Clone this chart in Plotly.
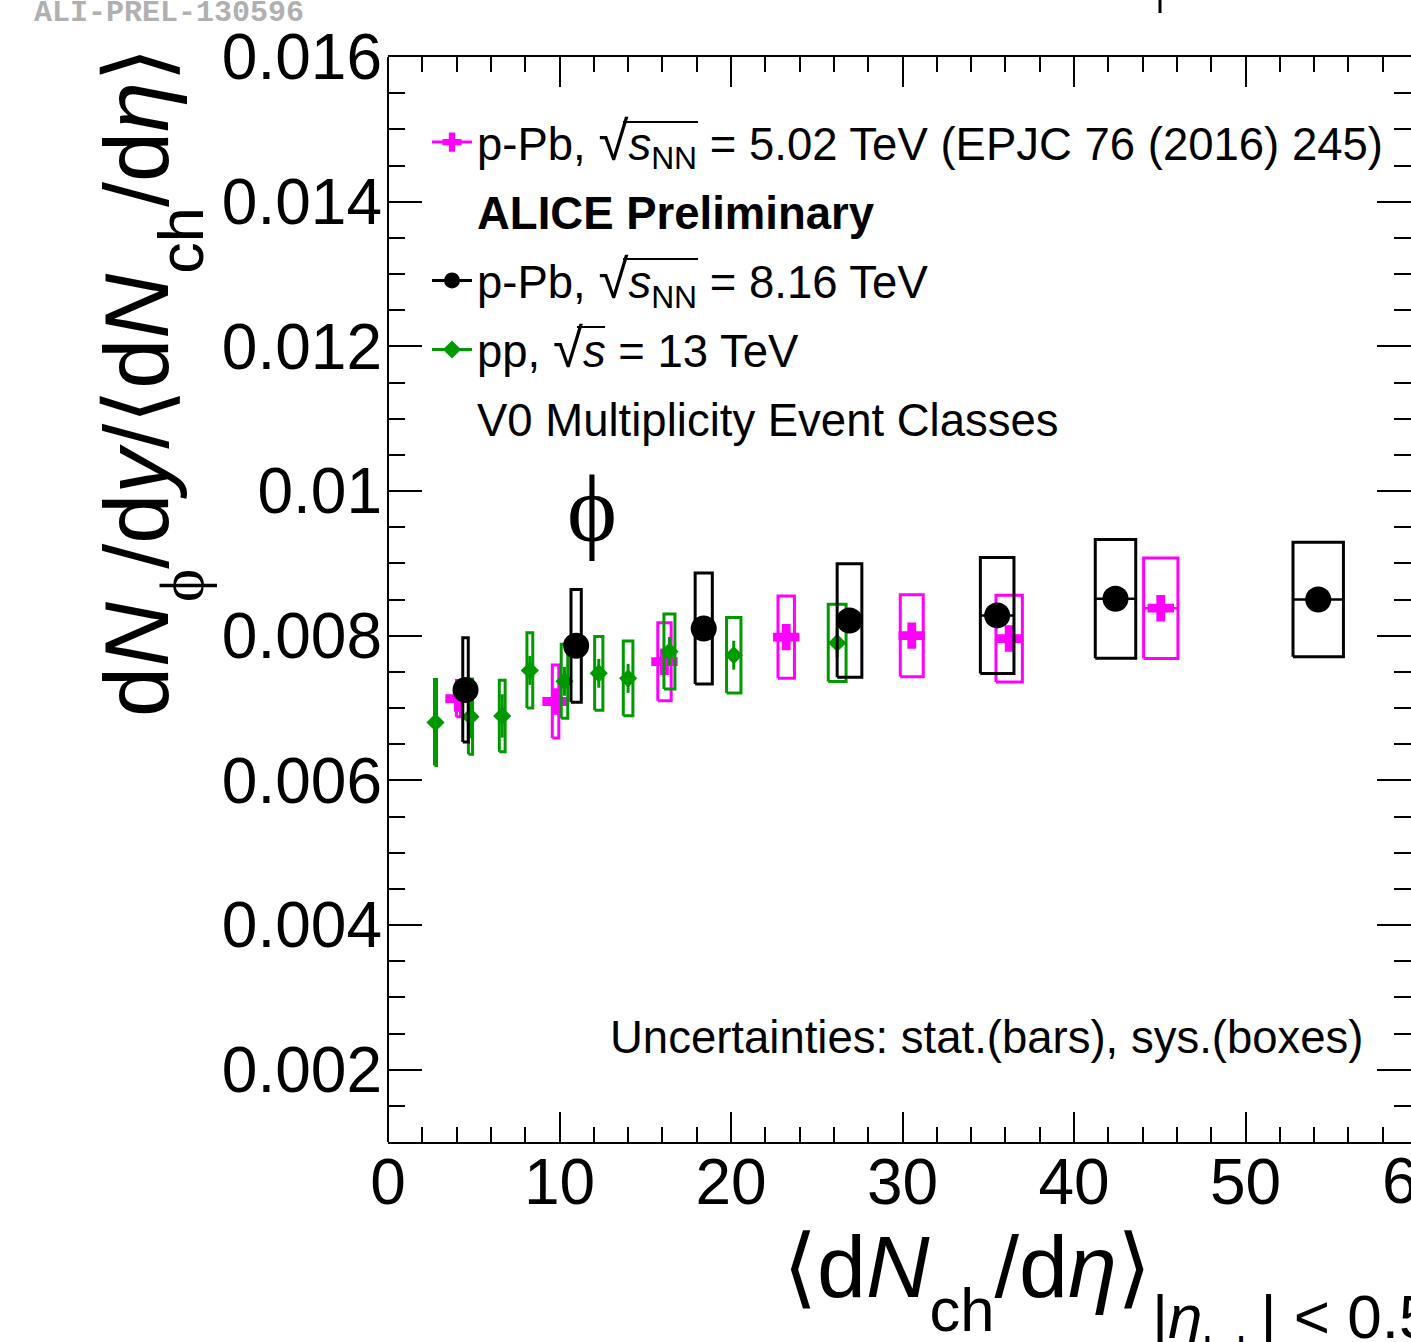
import plotly.graph_objects as go

# ---------------- data ----------------
# pp, sqrt(s) = 13 TeV
pp13_x = [2.77, 4.81, 6.66, 8.27, 10.29, 12.29, 14.0, 16.41, 20.16, 26.19]
pp13_y = [0.00680, 0.00688, 0.00689, 0.00752, 0.00737, 0.00748, 0.00741, 0.00778, 0.00773, 0.00790]
pp13_stat = [0.00045, 0.00030, 0.00030, 0.00020, 0.00020, 0.00020, 0.00020, 0.00020, 0.00020, 0.00020]
pp13_sys = [0.000595, 0.000521, 0.000494, 0.000521, 0.000510, 0.000510, 0.000517, 0.000519, 0.000521, 0.000533]
pp13_xw = [0.06, 0.12, 0.17, 0.17, 0.19, 0.24, 0.28, 0.32, 0.42, 0.52]

# p-Pb, sqrt(sNN) = 5.02 TeV
pPb5_x = [4.11, 9.77, 16.12, 23.22, 30.54, 36.22, 45.06]
pPb5_y = [0.00713, 0.00709, 0.00764, 0.00798, 0.00800, 0.00796, 0.00838]
pPb5_stat = [0.00010, 0.00010, 0.00010, 0.00010, 0.00010, 0.00010, 0.00010]
pPb5_sys = [0.000250, 0.000505, 0.000540, 0.000567, 0.000567, 0.000600, 0.000694]
pPb5_xw = [0.12, 0.19, 0.39, 0.48, 0.67, 0.77, 1.00]

# p-Pb, sqrt(sNN) = 8.16 TeV
pPb8_x = [4.52, 10.97, 18.41, 26.91, 35.52, 42.42, 54.24]
pPb8_y = [0.00725, 0.00786, 0.00810, 0.00821, 0.00828, 0.00851, 0.00850]
pPb8_stat = [0.00012, 0.00010, 0.00010, 0.00010, 0.00010, 0.00010, 0.00010]
pPb8_sys = [0.000721, 0.000779, 0.000768, 0.000786, 0.000802, 0.000821, 0.000790]
pPb8_xw = [0.16, 0.30, 0.50, 0.72, 0.98, 1.18, 1.47]

x_tickvals = [0, 10, 20, 30, 40, 50, 60]
x_ticktext = ["0", "10", "20", "30", "40", "50", "60"]
y_tickvals = [0.002, 0.004, 0.006, 0.008, 0.010, 0.012, 0.014, 0.016]
y_ticktext = ["0.002", "0.004", "0.006", "0.008", "0.01", "0.012", "0.014", "0.016"]

MAGENTA = "#ff00ff"
BLACK = "#000000"
GREEN = "#009900"
FONT = "Liberation Sans, Arial, sans-serif"
TXT = 45.5

W, H = 1411, 1342
ML, MR, MT, MB = 388, 0, 57, 200
PW, PH = W - ML - MR, H - MT - MB


def px_x(p):
    return (p - ML) / PW


def px_y(p):
    return (H - MB - p) / PH


def box_path(xs, ys, sys, xw):
    bx, by = [], []
    for xi, yi, s, w in zip(xs, ys, sys, xw):
        bx += [xi - w, xi + w, xi + w, xi - w, xi - w, None]
        by += [yi - s, yi - s, yi + s, yi + s, yi - s, None]
    return bx, by


fig = go.Figure()


def add_series(xs, ys, stat, sys, xw, color, symbol, size):
    bx, by = box_path(xs, ys, sys, xw)
    fig.add_trace(go.Scatter(x=bx, y=by, mode="lines", line=dict(color=color, width=3),
                             showlegend=False, hoverinfo="skip"))
    fig.add_trace(go.Scatter(
        x=xs, y=ys, mode="markers",
        marker=dict(color=color, symbol=symbol, size=size, line=dict(width=0)),
        error_y=dict(type="data", array=stat, color=color, thickness=3, width=0),
        error_x=dict(type="data", array=xw, color=color, thickness=2.5, width=0),
        showlegend=False))


add_series(pPb5_x, pPb5_y, pPb5_stat, pPb5_sys, pPb5_xw, MAGENTA, "cross", 22)
add_series(pp13_x, pp13_y, pp13_stat, pp13_sys, pp13_xw, GREEN, "diamond", 14)
add_series(pPb8_x, pPb8_y, pPb8_stat, pPb8_sys, pPb8_xw, BLACK, "circle", 26)

# legend entries
root = "<span style='font-size:120%'>√</span>"
sq_nn = root + "<i>s</i><sub>NN</sub>"
sq_s = root + "<i>s</i>"
legend_items = [
    ("p-Pb, " + sq_nn + " = 5.02 TeV (EPJC 76 (2016) 245)", MAGENTA, "cross", 16, True),
    ("<b>ALICE Preliminary</b>", "rgba(0,0,0,0)", "circle", 1, False),
    ("p-Pb, " + sq_nn + " = 8.16 TeV", BLACK, "circle", 16, True),
    ("pp, " + sq_s + " = 13 TeV", GREEN, "diamond", 14, True),
    ("V0 Multiplicity Event Classes", "rgba(0,0,0,0)", "circle", 1, False),
]
for i, (name, col, sym, sz, vis) in enumerate(legend_items):
    fig.add_trace(go.Scatter(
        x=[None], y=[None], name=name, legendgroup="g%d" % i,
        mode="lines+markers" if vis else "markers",
        line=dict(color=col, width=3),
        marker=dict(color=col, symbol=sym, size=sz, opacity=1 if vis else 0),
        showlegend=True))

axis_common = dict(
    ticks="inside", tickcolor="black", tickwidth=2,
    showgrid=False, zeroline=False, mirror="ticks",
    tickfont=dict(family=FONT, size=64, color="black"),
)

fig.update_layout(
    width=W, height=H,
    margin=dict(l=ML, r=MR, t=MT, b=MB, pad=0),
    paper_bgcolor="white", plot_bgcolor="white",
    font=dict(family=FONT, color="black"),
    xaxis=dict(range=[0, PW / 17.15], tickmode="array", tickvals=x_tickvals, ticktext=x_ticktext,
               showline=True, linecolor="black", linewidth=2,
               ticklen=30, ticklabelstandoff=-17,
               minor=dict(dtick=2, tick0=0, ticks="inside", ticklen=15,
                          tickwidth=2, tickcolor="black", showgrid=False),
               **axis_common),
    yaxis=dict(range=[0.001, 0.0160001], tickmode="array", tickvals=y_tickvals, ticktext=y_ticktext,
               showline=False,
               ticklen=34, ticklabelstandoff=5,
               minor=dict(dtick=0.0005, tick0=0, ticks="inside", ticklen=17,
                          tickwidth=2, tickcolor="black", showgrid=False),
               **axis_common),
    showlegend=True,
    legend=dict(x=px_x(427), y=px_y(106), xanchor="left", yanchor="top",
                bgcolor="rgba(0,0,0,0)", borderwidth=0, itemwidth=40, tracegroupgap=7,
                font=dict(family=FONT, size=TXT, color="black"), traceorder="grouped"),
)

low = "<span style='baseline-shift:-16px'>%s</span>"
annotations = [
    # y axis title
    dict(text="d<i>N</i><sub>" + (low % "<span style='font-family:Liberation Serif'>ϕ</span>")
              + "</sub>/d<i>y</i>/⟨d<i>N</i><sub>" + (low % "ch") + "</sub>/d<i>η</i>⟩",
         xref="paper", yref="paper", x=px_x(152), y=px_y(45), xanchor="center", yanchor="top",
         textangle=-90, showarrow=False, font=dict(family=FONT, size=90, color="black")),
    # x axis title
    dict(text="⟨d<i>N</i><sub>" + (low % "ch") + "</sub>/d<i>η</i>⟩",
         xref="paper", yref="paper", x=px_x(781), y=px_y(1215), xanchor="left", yanchor="top",
         showarrow=False, font=dict(family=FONT, size=88, color="black")),
    dict(text="|<i>η</i><sub>" + (low % "lab") + "</sub>| < 0.5",
         xref="paper", yref="paper", x=px_x(1150), y=px_y(1280), xanchor="left", yanchor="top",
         showarrow=False, font=dict(family=FONT, size=62, color="black")),
    # clipped 60 tick label
    dict(text=x_ticktext[-1], xref="paper", yref="paper", x=px_x(1417), y=px_y(1142.5),
         xanchor="center", yanchor="top", showarrow=False,
         font=dict(family=FONT, size=64, color="black")),
    # phi label
    dict(text="ϕ", xref="paper", yref="paper", x=px_x(592), y=px_y(509),
         xanchor="center", yanchor="middle", showarrow=False,
         font=dict(family="Liberation Serif, DejaVu Serif, serif", size=95, color="black")),
    # uncertainties note
    dict(text="Uncertainties: stat.(bars), sys.(boxes)", xref="paper", yref="paper",
         x=px_x(608), y=px_y(1037), xanchor="left", yanchor="middle", showarrow=False,
         font=dict(family=FONT, size=TXT, color="black")),
    # preliminary id
    dict(text="<b>ALI-PREL-130596</b>", xref="paper", yref="paper", x=px_x(32), y=px_y(-6),
         xanchor="left", yanchor="top", showarrow=False,
         font=dict(family="Liberation Mono, Courier New, monospace", size=30, color="#b0b0b0")),
]
fig.update_layout(annotations=annotations)

# left frame line (right frame edge lies outside the visible page)
fig.add_shape(type="line", xref="paper", yref="paper", x0=0, x1=0, y0=0, y1=1,
              line=dict(color="black", width=2), layer="above")
fig.add_shape(type="line", xref="paper", yref="paper", x0=px_x(1160), x1=px_x(1160),
              y0=px_y(0), y1=px_y(13), line=dict(color="black", width=3))
# vinculum of the square-root signs in the legend text
for (xa, xb, yv) in [(623, 698, 122), (623, 698, 259), (577, 605, 327)]:
    fig.add_shape(type="line", xref="paper", yref="paper", x0=px_x(xa), x1=px_x(xb),
                  y0=px_y(yv), y1=px_y(yv), line=dict(color="black", width=2))

fig.write_html("out.html")
